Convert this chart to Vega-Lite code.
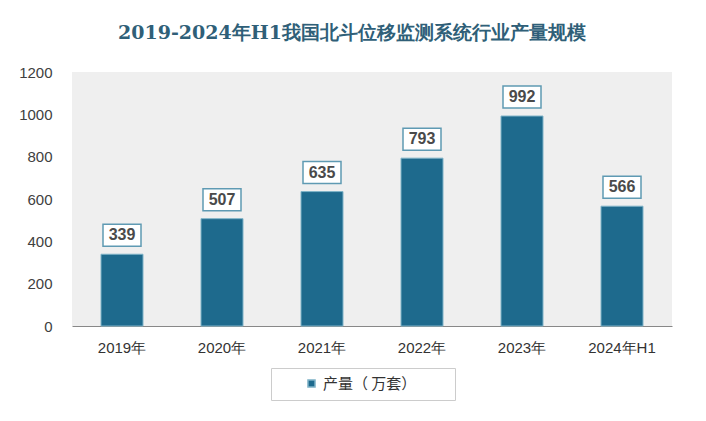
{
  "$schema": "https://vega.github.io/schema/vega-lite/v6.json",
  "autosize": "none",
  "width": 600,
  "height": 254,
  "padding": {"left": 72, "top": 72, "right": 34, "bottom": 95},
  "background": "white",
  "title": {
    "text": "2019-2024年H1我国北斗位移监测系统行业产量规模",
    "font": "DejaVu Serif",
    "fontSize": 19,
    "fontWeight": "bold",
    "color": "#2f5f78",
    "anchor": "middle",
    "dx": -20,
    "offset": 22
  },
  "config": {
    "view": {"fill": "#efefef", "stroke": null},
    "font": "Noto Sans CJK SC"
  },
  "data": {
    "values": [
      {"year": "2019年", "value": 339, "series": "产量（ 万套）"},
      {"year": "2020年", "value": 507, "series": "产量（ 万套）"},
      {"year": "2021年", "value": 635, "series": "产量（ 万套）"},
      {"year": "2022年", "value": 793, "series": "产量（ 万套）"},
      {"year": "2023年", "value": 992, "series": "产量（ 万套）"},
      {"year": "2024年H1", "value": 566, "series": "产量（ 万套）"}
    ]
  },
  "encoding": {
    "x": {
      "field": "year",
      "type": "nominal",
      "sort": null,
      "scale": {"paddingInner": 0.58, "paddingOuter": 0.29},
      "axis": {
        "title": null,
        "labelAngle": 0,
        "labelFontSize": 15,
        "labelColor": "#333333",
        "labelFont": "Liberation Sans",
        "labelPadding": 14,
        "ticks": false,
        "domainColor": "#888888",
        "domainWidth": 1
      }
    },
    "y": {
      "field": "value",
      "type": "quantitative",
      "scale": {"domain": [0, 1200], "nice": false},
      "axis": {
        "title": null,
        "values": [0, 200, 400, 600, 800, 1000, 1200],
        "format": "d",
        "grid": false,
        "domain": false,
        "ticks": false,
        "labelFontSize": 15,
        "labelColor": "#404040",
        "labelFont": "Liberation Sans",
        "labelPadding": 20
      }
    }
  },
  "layer": [
    {
      "mark": {"type": "bar", "stroke": "#7fb3c8", "strokeWidth": 1},
      "encoding": {
        "color": {
          "field": "series",
          "type": "nominal",
          "scale": {"range": ["#1e6a8d"]},
          "legend": {
            "title": "000",
            "titleColor": "white",
            "titleOrient": "right",
            "titleFontSize": 14,
            "titlePadding": 6,
            "orient": "none",
            "legendX": 199,
            "legendY": 296,
            "direction": "horizontal",
            "symbolType": "square",
            "symbolSize": 50,
            "symbolOffset": 25,
            "labelFontSize": 15,
            "labelColor": "#333333",
            "strokeColor": "#cccccc",
            "fillColor": "white",
            "padding": 8
          }
        }
      }
    },
    {
      "mark": {
        "type": "point",
        "shape": "M-0.95,-0.55H0.95V0.55H-0.95Z",
        "size": 1600,
        "filled": true,
        "fill": "white",
        "stroke": "#5f9ab3",
        "strokeWidth": 1.5,
        "opacity": 1,
        "yOffset": -19
      }
    },
    {
      "mark": {
        "type": "text",
        "fontSize": 16,
        "fontWeight": "bold",
        "color": "#4a4a4a",
        "font": "Liberation Sans",
        "dy": -19,
        "baseline": "middle"
      },
      "encoding": {"text": {"field": "value", "type": "quantitative"}}
    }
  ]
}
